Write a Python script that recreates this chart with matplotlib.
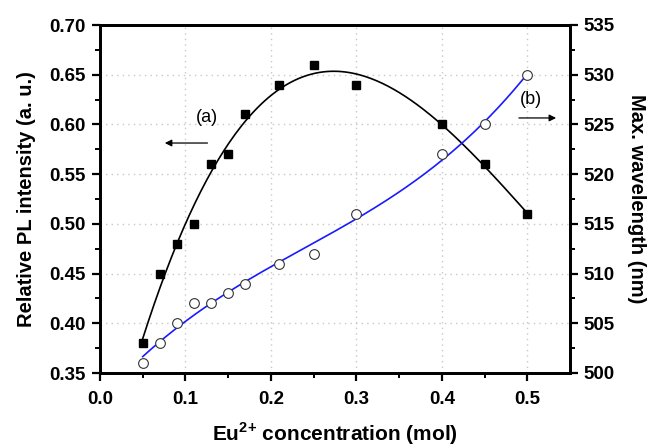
import numpy as np
import matplotlib
matplotlib.use("Agg")
import matplotlib.pyplot as plt
from matplotlib import font_manager

names = {f.name for f in font_manager.fontManager.ttflist}
narrow = 'Liberation Sans Narrow' if 'Liberation Sans Narrow' in names else 'Liberation Sans'

plt.rcParams['font.family'] = ['Liberation Sans', 'DejaVu Sans']
plt.rcParams['mathtext.fontset'] = 'custom'
plt.rcParams['mathtext.bf'] = 'Liberation Sans:bold'
plt.rcParams['mathtext.rm'] = 'Liberation Sans'

# Data
x_int = [0.05, 0.07, 0.09, 0.11, 0.13, 0.15, 0.17, 0.21, 0.25, 0.30, 0.40, 0.45, 0.50]
intensity = [0.38, 0.45, 0.48, 0.50, 0.56, 0.57, 0.61, 0.64, 0.66, 0.64, 0.60, 0.56, 0.51]
x_wl = [0.05, 0.07, 0.09, 0.11, 0.13, 0.15, 0.17, 0.21, 0.25, 0.30, 0.40, 0.45, 0.50]
wavelength = [501, 503, 505, 507, 507, 508, 509, 511, 512, 516, 522, 525, 530]

fig = plt.figure(figsize=(6.51, 4.47), dpi=100)
ax = fig.add_axes([100/651, 1-373/447, 470/651, 348/447])
ax2 = ax.twinx()

xs = np.linspace(0.05, 0.50, 200)
p1 = np.polyfit(x_int, intensity, 3)
p2 = np.polyfit(x_wl, wavelength, 3)

ax.plot(xs, np.polyval(p1, xs), color='black', lw=1.2, zorder=3)
ax.plot(x_int, intensity, 's', color='black', ms=6, zorder=4)
ax2.plot(xs, np.polyval(p2, xs), color='#1a1aff', lw=1.2, zorder=3)
ax2.plot(x_wl, wavelength, 'o', mfc='white', mec='#333333', ms=7, mew=0.8, zorder=4)

ax.set_xlim(0, 0.55)
ax.set_ylim(0.35, 0.70)
ax2.set_ylim(500, 535)
ax.set_xticks(np.arange(0, 0.51, 0.1))
ax.set_xticks(np.arange(0.05, 0.55, 0.1), minor=True)
ax.set_yticks(np.arange(0.35, 0.701, 0.05))
ax.set_yticks(np.arange(0.375, 0.70, 0.05), minor=True)
ax2.set_yticks(np.arange(500, 536, 5))
ax2.set_yticks(np.arange(502.5, 535, 5), minor=True)
ax.set_xticklabels([f"{v:.1f}" for v in np.arange(0, 0.51, 0.1)])
ax.set_yticklabels([f"{v:.2f}" for v in np.arange(0.35, 0.701, 0.05)])

ax.grid(True, which='major', color='#c8c8c8', ls=(0, (1, 3)), lw=1)

for a in (ax, ax2):
    for s in a.spines.values():
        s.set_linewidth(2)
    a.tick_params(which='major', direction='out', length=6, width=1.6, labelsize=13.5, pad=4)
    a.tick_params(which='minor', direction='out', length=3.5, width=1.4)
    for lab in a.get_xticklabels() + a.get_yticklabels():
        lab.set_fontweight('bold')
        lab.set_family([narrow, 'Liberation Sans'])
ax.tick_params(axis='x', pad=7)

ax.set_xlabel(r'Eu$^{\mathbf{2{+}}}$ concentration (mol)', fontsize=15, fontweight='bold', labelpad=9)
ax.set_ylabel('Relative PL intensity (a. u.)', fontsize=14.5, fontweight='bold', labelpad=10)
ax2.set_ylabel('Max. wavelength (nm)', fontsize=14.5, fontweight='bold', rotation=-90, labelpad=22)

ax.text(0.125, 0.6065, '(a)', fontsize=13, ha='center', va='center')
ax.annotate('', xy=(0.0726, 0.5813), xytext=(0.129, 0.5813),
            arrowprops=dict(arrowstyle='-|>', color='black', lw=0.9, mutation_scale=10))
ax.text(0.504, 0.6246, '(b)', fontsize=13, ha='center', va='center')
ax.annotate('', xy=(0.537, 0.6065), xytext=(0.487, 0.6065),
            arrowprops=dict(arrowstyle='-|>', color='black', lw=0.9, mutation_scale=10))

fig.savefig('out.png', dpi=100)
